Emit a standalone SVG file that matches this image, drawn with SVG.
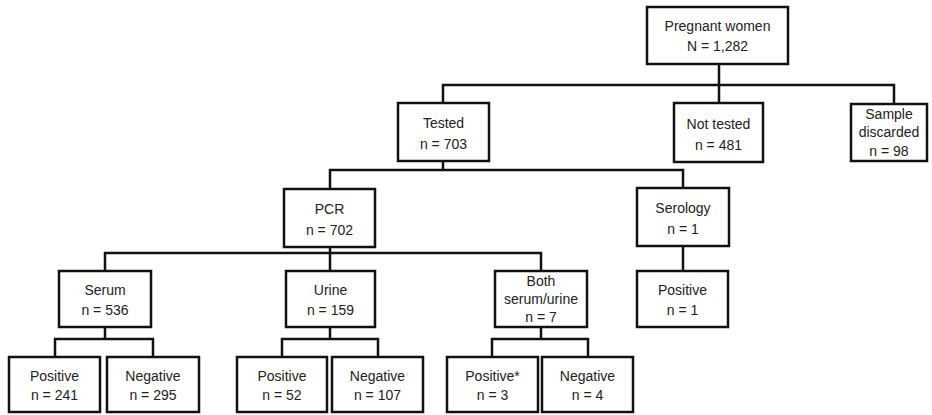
<svg xmlns="http://www.w3.org/2000/svg" width="932" height="415" viewBox="0 0 932 415">
<style>
.box{fill:#fff;stroke:#111;stroke-width:2.5}
.ln{fill:none;stroke:#111;stroke-width:2.5;stroke-linecap:square}
text{font-family:"Liberation Sans",Arial,sans-serif;font-size:14px;fill:#222;text-anchor:middle}
</style>
<rect width="932" height="415" fill="#fff"/>
<g id="connectors">
<path class="ln" d="M719,64V103M443,85H894M443,85V103M894,85V104"/>
<path class="ln" d="M443,161V170M330,170H683M330,170V189M683,170V188"/>
<path class="ln" d="M330,247V271M105,253H541M105,253V271M541,253V271"/>
<path class="ln" d="M683,246V271"/>
<path class="ln" d="M105,327V339M55,339H153M55,339V357M153,339V357"/>
<path class="ln" d="M330,327V339M282,339H378M282,339V357M378,339V357"/>
<path class="ln" d="M541,327V339M492,339H588M492,339V357M588,339V357"/>
</g>
<g id="pregnant"><rect class="box" x="647" y="7" width="141" height="57"/><text x="717.5" y="31">Pregnant women</text><text x="717.5" y="51">N = 1,282</text></g>
<g id="tested"><rect class="box" x="398" y="103" width="91" height="58"/><text x="443.5" y="128">Tested</text><text x="443.5" y="149">n = 703</text></g>
<g id="nottested"><rect class="box" x="674" y="103" width="89" height="59"/><text x="718.5" y="129">Not tested</text><text x="718.5" y="150">n = 481</text></g>
<g id="discarded"><rect class="box" x="851" y="104" width="76" height="57"/><text x="889" y="119">Sample</text><text x="889" y="137">discarded</text><text x="889" y="156">n = 98</text></g>
<g id="pcr"><rect class="box" x="284" y="189" width="91" height="58"/><text x="329.5" y="214">PCR</text><text x="329.5" y="235">n = 702</text></g>
<g id="serology"><rect class="box" x="637" y="188" width="92" height="58"/><text x="683" y="213">Serology</text><text x="683" y="234">n = 1</text></g>
<g id="serum"><rect class="box" x="59" y="271" width="92" height="56"/><text x="105" y="295">Serum</text><text x="105" y="315">n = 536</text></g>
<g id="urine"><rect class="box" x="286" y="271" width="89" height="56"/><text x="330.5" y="295">Urine</text><text x="330.5" y="315">n = 159</text></g>
<g id="both"><rect class="box" x="495" y="271" width="92" height="56"/><text x="541" y="286">Both</text><text x="541" y="304">serum/urine</text><text x="541" y="322">n = 7</text></g>
<g id="serologypos"><rect class="box" x="637" y="271" width="91" height="56"/><text x="682.5" y="295">Positive</text><text x="682.5" y="315">n = 1</text></g>
<g id="serumpos"><rect class="box" x="9" y="357" width="91" height="55"/><text x="54.5" y="381">Positive</text><text x="54.5" y="400">n = 241</text></g>
<g id="serumneg"><rect class="box" x="107" y="357" width="92" height="55"/><text x="153" y="381">Negative</text><text x="153" y="400">n = 295</text></g>
<g id="urinepos"><rect class="box" x="237" y="357" width="90" height="55"/><text x="282" y="381">Positive</text><text x="282" y="400">n = 52</text></g>
<g id="urineneg"><rect class="box" x="332" y="357" width="91" height="55"/><text x="377.5" y="381">Negative</text><text x="377.5" y="400">n = 107</text></g>
<g id="bothpos"><rect class="box" x="447" y="357" width="91" height="55"/><text x="492.5" y="381">Positive*</text><text x="492.5" y="400">n = 3</text></g>
<g id="bothneg"><rect class="box" x="542" y="357" width="91" height="55"/><text x="587.5" y="381">Negative</text><text x="587.5" y="400">n = 4</text></g>
</svg>
